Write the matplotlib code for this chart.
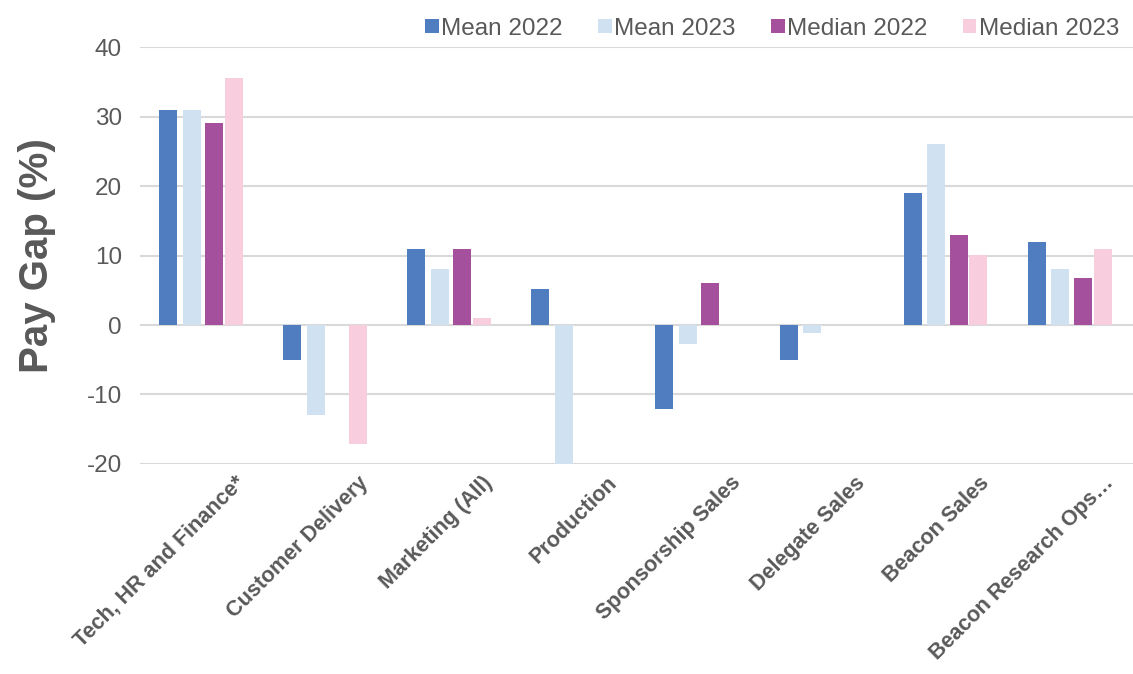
import matplotlib
matplotlib.use("Agg")
import matplotlib.pyplot as plt
import matplotlib.transforms as mtransforms
import numpy as np

plt.rcParams["font.family"] = ["Liberation Sans", "DejaVu Sans"]

categories = ["Tech, HR and Finance*", "Customer Delivery", "Marketing (All)", "Production",
              "Sponsorship Sales", "Delegate Sales", "Beacon Sales", "Beacon Research Ops\u2026"]
series_names = ["Mean 2022", "Mean 2023", "Median 2022", "Median 2023"]
mean_2022 = [31, -5, 11, 5.2, -12.1, -5, 19, 12]
mean_2023 = [31, -13, 8, -20, -2.8, -1.1, 26, 8]
median_2022 = [29, 0, 11, 0, 6.1, 0, 13, 6.8]
median_2023 = [35.5, -17.1, 1, 0, 0, 0, 10.1, 11]
colors = ["#4F7DC0", "#D0E1F2", "#A4509C", "#F8CDDD"]
y_ticks = [-20, -10, 0, 10, 20, 30, 40]

text_color = "#595959"
fig = plt.figure(figsize=(11.33, 6.74), dpi=100)
ax = fig.add_axes([0.1236, 0.3116, 0.8764, 0.6186])

x = np.arange(len(categories))
width = 0.145
offsets = [-0.275, -0.085, 0.095, 0.255]
for vals, name, c, off in zip([mean_2022, mean_2023, median_2022, median_2023],
                              series_names, colors, offsets):
    ax.bar(x + off, vals, width=width, color=c, label=name, zorder=3)

ax.set_xlim(-0.5, len(categories) - 0.5)
ax.set_ylim(-20, 40)
ax.set_yticks(y_ticks)
ax.set_yticklabels([str(t) for t in y_ticks], fontsize=17.5, color=text_color)
ax.yaxis.grid(True, color="#D9D9D9", linewidth=1.5, zorder=0)
ax.set_axisbelow(True)
for s in ax.spines.values():
    s.set_visible(False)
ax.tick_params(axis="both", length=0)
ax.tick_params(axis="y", pad=13)

ax.set_xticks(x)
ax.set_xticklabels(categories, rotation=45, ha="right", rotation_mode="anchor",
                   fontsize=15.5, fontweight="bold", color=text_color)
ax.tick_params(axis="x", pad=4)
shift = mtransforms.ScaledTranslation(32 / 100, -3 / 100, fig.dpi_scale_trans)
for lbl in ax.get_xticklabels():
    lbl.set_transform(lbl.get_transform() + shift)

ax.set_ylabel("Pay Gap (%)", fontsize=29, fontweight="bold", color=text_color, labelpad=22)

leg = ax.legend(loc="lower right", bbox_to_anchor=(0.994, 1.0), ncol=4, frameon=False,
                fontsize=17.5, handlelength=0.55, handleheight=0.55, handletextpad=0.12,
                columnspacing=1.45, borderaxespad=0.3, borderpad=0.0)
for t in leg.get_texts():
    t.set_color(text_color)

fig.savefig("out.png", dpi=100)
